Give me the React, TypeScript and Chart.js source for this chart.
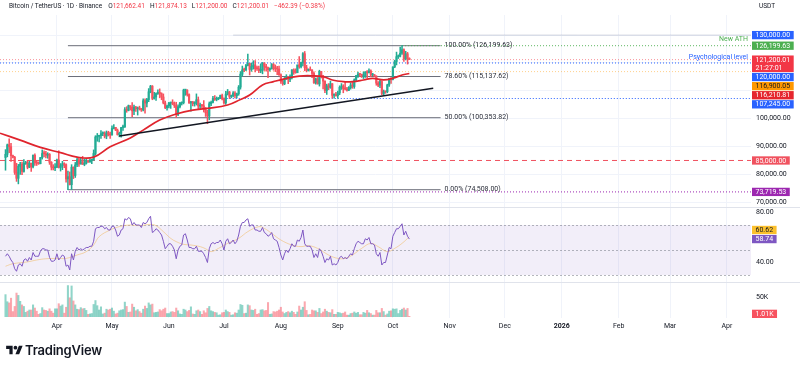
import React, { useEffect, useRef } from "react";
import { Chart, registerables } from "chart.js";

Chart.register(...registerables);

const FONT = "Roboto, 'Noto Sans', 'DejaVu Sans', sans-serif";

// ---------------- data (daily BTC/USDT, Binance) ----------------
const originDate = "2025-03-01";
const firstCandleDate = "2025-03-04";
const firstOpen = 86065;

const highs = [
  // Mar 4 - Mar 31
  88900, 90900, 92800, 91200, 86900, 86500, 84000, 83600, 84300, 84400, 85300, 84700, 85000, 84700, 84100, 87000, 87400, 85000, 84500, 86100, 88800, 88500, 88300, 87800, 87500, 84600, 83500, 83900,
  // Apr
  85500, 88500, 83900, 84700, 84200, 83800, 81200, 80900, 83500, 82700, 84300, 85900, 86100, 85800, 86500, 85500, 85400, 85100, 85600, 85300, 88800, 93900, 94700, 94000, 95700, 95300, 95300, 95600, 95500, 95200,
  // May
  97400, 97900, 96900, 96300, 95200, 96900, 97700, 104000, 104300, 104900, 104600, 105800, 104900, 104400, 104200, 104500, 103700, 107100, 107100, 107300, 110800, 111980, 111900, 109500, 109300, 110400, 110700, 109300, 108900, 106300, 104900,
  // Jun
  105900, 105900, 106800, 106000, 105900, 105000, 105900, 106000, 110600, 110400, 110400, 108900, 106200, 106200, 106100, 108900, 107800, 105600, 105200, 106500, 104000, 103000, 106000, 106300, 108000, 108300, 107800, 107600, 108500, 108800,
  // Jul
  107500, 109800, 110500, 109800, 108500, 109700, 109700, 109200, 111900, 116900, 118900, 118200, 119500, 123218, 119900, 120000, 120800, 120900, 118900, 118900, 119700, 120200, 120100, 119500, 118500, 118300, 119800, 119800, 119300, 118800, 118900,
  // Aug
  116100, 114000, 114800, 115800, 115200, 115700, 117600, 117900, 117900, 119300, 122300, 120300, 123700, 124128, 119200, 117900, 118600, 117600, 116800, 114600, 114800, 117400, 117000, 115600, 113600, 112400, 112600, 113500, 112600, 108900, 109500,
  // Sep
  109900, 111800, 112600, 112200, 113400, 111300, 111500, 112900, 113200, 114300, 115500, 116700, 116300, 116000, 116800, 116900, 117300, 117900, 117500, 116300, 115900, 115400, 113300, 113900, 113400, 110300, 109800, 112400, 114500, 114800,
  // Oct 1 - Oct 10
  118600, 121000, 123900, 122900, 125700, 126199.63, 125100, 124200, 123800, 121874.13,
];

const lows = [
  81500, 86300, 87800, 84700, 85900, 80000, 77500, 76600, 80000, 79900, 80800, 83600, 82000, 82400, 81100, 82300, 83200, 83200, 83600, 83800, 85500, 86300, 85900, 85800, 83600, 81600, 81600, 81300,
  82400, 82300, 81200, 81700, 82400, 77200, 74508, 76200, 74600, 78500, 78900, 82800, 82900, 83700, 83600, 83100, 83700, 84300, 84400, 83900, 85100, 87000, 91900, 91700, 92900, 93900, 93100, 92800, 93800, 92900,
  94100, 96300, 95700, 94100, 93500, 93400, 95800, 96900, 102300, 102800, 103100, 100700, 101400, 102600, 101300, 103100, 102600, 102800, 102000, 104200, 106100, 109300, 106800, 107000, 106600, 108700, 107500, 106800, 105300, 103600, 103100,
  103900, 103700, 105000, 104000, 100400, 101100, 103900, 104900, 105300, 108400, 108100, 105500, 102700, 104600, 104500, 104900, 103500, 103600, 103900, 102400, 100800, 98200, 99600, 104700, 105700, 106600, 106400, 106800, 107200, 106700,
  105200, 105100, 108500, 107200, 107500, 107800, 107500, 107500, 108400, 110600, 115300, 116900, 117300, 118900, 115700, 117000, 117800, 116800, 117300, 116500, 116500, 116100, 117300, 117100, 114700, 117100, 117800, 117400, 116900, 115800, 115500,
  112700, 112000, 112200, 114100, 112600, 113300, 114300, 115900, 116300, 116500, 118100, 118200, 118900, 117200, 116800, 117100, 117300, 114700, 112700, 112400, 112400, 111700, 114600, 110700, 109300, 108700, 110400, 110900, 107400, 107400, 108100,
  107300, 108600, 110500, 109300, 110300, 109900, 110100, 110600, 110900, 110900, 113400, 114800, 115200, 114800, 114400, 114800, 114700, 116400, 115100, 115400, 115200, 112000, 111500, 111100, 108600, 108600, 109100, 109300, 111600, 112700,
  113900, 118300, 119300, 121600, 122200, 123100, 120600, 121100, 119600, 121200,
];

const closes = [
  87220, 90620, 89960, 86740, 86150, 80730, 78600, 82930, 83680, 81070, 83970, 84340, 82580, 84010, 82720, 86850, 84170, 84040, 83830, 86050, 87500, 87420, 86900, 87180, 84350, 82600, 82340, 82550,
  85160, 82500, 83100, 83840, 83500, 78370, 79160, 76320, 82600, 79600, 83400, 85280, 83740, 84540, 83600, 84030, 84940, 84450, 85060, 85170, 87520, 93440, 93700, 93980, 94640, 94650, 93750, 94980, 94280, 94170,
  96490, 96910, 95890, 94300, 94750, 96830, 97030, 103240, 102970, 104700, 104120, 102810, 104170, 103540, 103740, 103510, 103130, 106450, 105610, 106850, 109670, 111670, 107290, 107790, 109030, 109440, 108990, 107800, 105640, 103980, 104590,
  105640, 105880, 105430, 104700, 101510, 104290, 105600, 105730, 110260, 110270, 108650, 105670, 106070, 105410, 105590, 106790, 104550, 104830, 104630, 103270, 102120, 100960, 105370, 105890, 107300, 106920, 107110, 107300, 108330, 107140,
  105700, 108820, 109600, 107980, 108220, 109200, 108260, 108920, 111330, 115990, 117520, 117420, 119090, 119840, 117680, 118760, 119290, 117950, 117940, 117300, 117440, 119950, 118760, 118340, 117640, 117920, 119450, 118060, 117920, 117830, 115760,
  113300, 112530, 114210, 115030, 114110, 114990, 117490, 116650, 116490, 119290, 118690, 120130, 123320, 118300, 117340, 117490, 117450, 116250, 112870, 114270, 112500, 116940, 115380, 113490, 110110, 111790, 111260, 112560, 108380, 108810, 108250,
  109240, 111240, 111710, 110730, 110660, 110190, 111140, 112070, 111550, 113960, 115500, 116030, 115950, 115270, 115350, 116790, 116470, 117140, 115690, 115720, 115310, 112750, 112010, 113330, 109050, 109690, 109680, 112120, 114400, 114050,
  118590, 120530, 122270, 122390, 123500, 124750, 121450, 123300, 121662.41, 121200.01,
];

const volumesK = [
  56, 38, 35, 47, 13, 26, 60, 54, 39, 30, 26, 11, 14, 17, 17, 30, 22, 14, 6, 8, 23, 17, 16, 14, 20, 14, 9, 20,
  20, 33, 27, 30, 9, 24, 79, 48, 78, 40, 30, 19, 18, 23, 20, 21, 16, 6, 7, 8, 31, 41, 28, 17, 25, 7, 9, 19, 17, 19,
  22, 14, 7, 9, 15, 17, 18, 37, 26, 11, 12, 32, 24, 15, 18, 13, 9, 19, 27, 21, 35, 30, 32, 10, 11, 12, 18, 15, 19, 22, 8,
  8, 12, 13, 11, 22, 15, 7, 6, 19, 17, 13, 16, 25, 7, 6, 15, 17, 13, 6, 15, 10, 21, 26, 15, 13, 11, 10, 4, 5, 10,
  11, 17, 13, 11, 4, 5, 10, 9, 17, 31, 29, 8, 9, 30, 28, 17, 16, 19, 6, 8, 17, 18, 15, 16, 36, 6, 7, 13, 12, 14, 17,
  24, 12, 8, 11, 13, 10, 14, 11, 6, 12, 27, 17, 24, 38, 16, 5, 6, 17, 15, 15, 11, 21, 8, 12, 19, 14, 11, 10, 18, 6, 6,
  11, 10, 8, 9, 12, 4, 4, 8, 9, 12, 9, 11, 5, 5, 11, 9, 16, 10, 8, 4, 4, 16, 10, 10, 21, 13, 4, 7, 14, 15,
  20, 19, 20, 8, 16, 19, 22, 17, 21, 1.01,
];

const rsiValues = [
  45, 47, 45, 42, 40, 35, 33, 38, 39, 37, 42, 43, 41, 44, 42, 48, 45, 45, 45, 49, 51, 51, 50, 50, 44, 41, 41, 42,
  47, 42, 44, 46, 45, 37, 38, 34, 47, 42, 49, 52, 50, 51, 50, 51, 52, 52, 53, 53, 57, 67, 68, 68, 69, 69, 67, 68, 66, 66,
  69, 69, 66, 61, 62, 66, 67, 75, 74, 76, 75, 70, 72, 70, 70, 70, 68, 72, 71, 72, 75, 77, 64, 65, 67, 66, 64, 62, 57, 51, 53,
  55, 55, 53, 50, 43, 50, 53, 54, 62, 63, 58, 52, 52, 51, 51, 53, 49, 49, 49, 47, 44, 40, 51, 55, 56, 55, 56, 56, 58, 55,
  50, 57, 59, 55, 56, 58, 55, 57, 62, 69, 72, 72, 74, 75, 69, 70, 70, 66, 66, 65, 65, 68, 64, 63, 61, 62, 64, 59, 58, 57, 52,
  46, 42, 47, 50, 48, 51, 55, 53, 53, 58, 57, 60, 66, 55, 53, 53, 53, 50, 44, 47, 44, 51, 49, 45, 40, 43, 42, 45, 38, 39, 38,
  40, 44, 45, 43, 44, 43, 45, 47, 46, 51, 55, 57, 56, 55, 55, 59, 58, 60, 55, 55, 54, 47, 45, 48, 38, 40, 40, 46, 52, 51,
  61, 64, 67, 67, 69, 71, 62, 65, 61, 58.74,
];

// RSI moving average, day offsets from originDate
const rsiMaDays = [3, 7, 15, 20, 25, 31, 36, 42, 47, 51, 54, 60, 65, 71, 76, 82, 85, 89, 93, 96, 100, 104, 109, 112, 115, 119, 124, 130, 135, 141, 144, 148, 153, 159, 164, 168, 173, 179, 184, 188, 192, 197, 202, 206, 211, 215, 219, 223];
const rsiMaValues = [37, 39, 40.5, 42, 43, 43.3, 43.3, 46, 48.7, 54, 60.7, 66, 68.7, 70, 69.5, 70.5, 69.5, 64.7, 59.3, 56.7, 54.5, 54, 52.7, 51, 48.7, 51.3, 55.3, 59.3, 64.7, 68.7, 67.3, 63.3, 58, 54, 52.7, 53.5, 51.3, 46, 43.3, 43.3, 46, 51.3, 55.3, 52.7, 48.7, 51.3, 55.3, 60.62];

// Price moving average (red), day offsets from originDate
const maDays = [0, 11, 22, 33, 42, 51, 60, 71, 78, 87, 96, 105, 113, 124, 131, 136, 143, 149, 156, 163, 170, 176, 181, 187, 192, 198, 203, 209, 214, 219, 223];
const maValues = [94800, 92300, 89700, 87800, 86200, 86200, 89900, 93100, 95900, 99500, 101700, 103100, 103700, 104900, 106900, 108500, 112100, 113300, 114500, 115300, 115400, 115100, 113900, 113300, 113300, 113900, 114500, 113900, 114500, 115700, 116210.81];

// ascending trendline
const trendDates = ["2025-05-05", "2025-10-23"];
const trendPrices = [93750, 110900];

// Fibonacci retracement
const fibDates = ["2025-04-07", "2025-10-27"];
const fibLabels = ["100.00%", "78.60%", "50.00%", "0.00%"];
const fibPrices = [126199.63, 115137.62, 100353.82, 74508.0];

// horizontal levels
const roundLevel = 130000;
const athLevel = 126199.63;
const psychLevel = 120000;
const orangeLevel = 116900.05;
const supportLevel = 107245.0;
const dashedLevel = 85000;
const purpleLevel = 73719.53;
const countdown = "21:27:01";

// axes
const monthTickDates = ["2025-04-01", "2025-05-01", "2025-06-01", "2025-07-01", "2025-08-01", "2025-09-01", "2025-10-01", "2025-11-01", "2025-12-01", "2026-01-01", "2026-02-01", "2026-03-01", "2026-04-01"];
const monthTickLabels = ["Apr", "May", "Jun", "Jul", "Aug", "Sep", "Oct", "Nov", "Dec", "2026", "Feb", "Mar", "Apr"];
const priceGridTicks = [70000, 80000, 90000, 100000, 110000, 120000, 130000];
const priceLabelTicks = [70000, 80000, 90000, 100000];
const rsiBands = [70, 50, 30];
const rsiAxisTicks = [80, 40];
const volAxisTicksK = [50];

const headerTitle = "Bitcoin / TetherUS · 1D · Binance";
const headerChange = "−462.39 (−0.38%)";

// ---------------- view ----------------
const X_MIN = 0;
const X_MAX = 409.1;
const P_MIN = 28461;
const P_MAX = 137219;
const R_MIN = -4.4;
const R_MAX = 238;
const V_MIN = -3.3;
const V_MAX = 765.7;

const UP = "#22AB94";
const DOWN = "#F7525F";

const DAY0 = Date.parse(originDate + "T00:00:00Z");
const dayOf = (s: string) => (Date.parse(s + "T00:00:00Z") - DAY0) / 86400000;
const fmt = (v: number) => v.toLocaleString("en-US", { minimumFractionDigits: 2, maximumFractionDigits: 2 });

const n = closes.length;
const firstDay = dayOf(firstCandleDate);
const opens = closes.map((c, i) => (i === 0 ? firstOpen : closes[i - 1]));
const xs = closes.map((_, i) => firstDay + i);
const isUp = closes.map((c, i) => c >= opens[i]);
const lastClose = closes[n - 1];
const lastMa = maValues[maValues.length - 1];
const lastRsi = rsiValues[n - 1];
const lastRsiMa = rsiMaValues[rsiMaValues.length - 1];
const lastVol = volumesK[n - 1];
const monthTickDays = monthTickDates.map(dayOf);
const yearTickDay = dayOf("2026-01-01");

function hLine(price: number, fromDay: number, color: string, dash: number[], width = 1, order = 10) {
  return {
    type: "line",
    yAxisID: "y",
    data: [{ x: fromDay, y: price }, { x: X_MAX, y: price }],
    borderColor: color,
    borderWidth: width,
    borderDash: dash,
    pointRadius: 0,
    fill: false,
    order,
  };
}

type Box = { y: number; lines: string[]; bg: string; fg: string; top?: number };

function drawBoxes(ctx: CanvasRenderingContext2D, items: Box[], mode: "down" | "up", clampBottom: number) {
  const lh = 8.3;
  const gap = 0.8;
  const sorted = [...items].sort((a, b) => a.y - b.y);
  if (mode === "down") {
    let prevBottom = -Infinity;
    for (const it of sorted) {
      const h = lh * it.lines.length;
      let top = it.y - lh / 2;
      if (top < prevBottom + gap) top = prevBottom + gap;
      it.top = top;
      prevBottom = top + h;
    }
  } else {
    let prevTop = Infinity;
    for (let i = sorted.length - 1; i >= 0; i--) {
      const it = sorted[i];
      const h = lh * it.lines.length;
      let top = it.y - lh / 2;
      if (top + h > prevTop - gap) top = prevTop - gap - h;
      it.top = top;
      prevTop = top;
    }
  }
  ctx.font = `7px ${FONT}`;
  ctx.textBaseline = "middle";
  ctx.textAlign = "left";
  for (const it of sorted) {
    const h = lh * it.lines.length;
    let top = it.top as number;
    if (top + h > clampBottom) top = clampBottom - h;
    const w = Math.max(...it.lines.map((l) => ctx.measureText(l).width)) + 7;
    ctx.fillStyle = it.bg;
    ctx.fillRect(752, top, w, h);
    ctx.fillStyle = it.fg;
    it.lines.forEach((l, i) => ctx.fillText(l, 755.5, top + lh / 2 + i * lh + 0.3));
  }
}

const decorPlugin = {
  id: "decor",
  beforeDatasetsDraw(chart: any) {
    const { ctx, chartArea: ca, scales } = chart;
    const yr = scales.yr;
    const yTop = yr.getPixelForValue(rsiBands[0]);
    const yBot = yr.getPixelForValue(rsiBands[2]);
    ctx.save();
    ctx.fillStyle = "rgba(126,87,194,0.1)";
    ctx.fillRect(ca.left, yTop, ca.right - ca.left, yBot - yTop);
    ctx.strokeStyle = "rgba(120,123,134,0.55)";
    ctx.lineWidth = 1;
    ctx.setLineDash([2, 2]);
    for (const b of rsiBands) {
      const y = Math.round(yr.getPixelForValue(b)) + 0.5;
      ctx.beginPath();
      ctx.moveTo(ca.left, y);
      ctx.lineTo(ca.right, y);
      ctx.stroke();
    }
    ctx.setLineDash([]);
    ctx.strokeStyle = "#E0E3EB";
    for (const y of [207.5, 282.5]) {
      ctx.beginPath();
      ctx.moveTo(0, y);
      ctx.lineTo(800, y);
      ctx.stroke();
    }
    ctx.restore();
  },
  afterDraw(chart: any) {
    const { ctx, chartArea: ca, scales } = chart;
    const x = scales.x, y = scales.y, yr = scales.yr, yv = scales.yv;
    ctx.save();
    // fib labels
    ctx.font = `7px ${FONT}`;
    ctx.textBaseline = "middle";
    ctx.textAlign = "left";
    ctx.fillStyle = "#2A2E39";
    const fx = x.getPixelForValue(dayOf(fibDates[1])) + 4;
    fibPrices.forEach((p, i) => ctx.fillText(`${fibLabels[i]} (${fmt(p)})`, fx, y.getPixelForValue(p)));
    // level captions
    ctx.textAlign = "right";
    ctx.fillStyle = "#4CAF50";
    ctx.fillText("New ATH", ca.right - 3, y.getPixelForValue(athLevel) - 6);
    ctx.fillStyle = "#2962FF";
    ctx.fillText("Psychological level", ca.right - 3, y.getPixelForValue(psychLevel) - 6);
    // secondary axis ticks
    ctx.textAlign = "left";
    ctx.fillStyle = "#131722";
    rsiAxisTicks.forEach((t) => ctx.fillText(t.toFixed(2), 756, yr.getPixelForValue(t)));
    volAxisTicksK.forEach((t) => ctx.fillText(`${t}K`, 756, yv.getPixelForValue(t)));
    // axis boxes
    drawBoxes(
      ctx,
      [
        { y: y.getPixelForValue(roundLevel), lines: [fmt(roundLevel)], bg: "#2962FF", fg: "#fff" },
        { y: y.getPixelForValue(athLevel), lines: [fmt(athLevel)], bg: "#4CAF50", fg: "#fff" },
        { y: y.getPixelForValue(lastClose), lines: [fmt(lastClose), countdown], bg: "#F23645", fg: "#fff" },
        { y: y.getPixelForValue(psychLevel), lines: [fmt(psychLevel)], bg: "#2962FF", fg: "#fff" },
        { y: y.getPixelForValue(orangeLevel), lines: [fmt(orangeLevel)], bg: "#FF9800", fg: "#131722" },
        { y: y.getPixelForValue(lastMa), lines: [fmt(lastMa)], bg: "#E5262D", fg: "#fff" },
        { y: y.getPixelForValue(supportLevel), lines: [fmt(supportLevel)], bg: "#2962FF", fg: "#fff" },
      ],
      "down",
      207
    );
    drawBoxes(ctx, [{ y: y.getPixelForValue(dashedLevel), lines: [fmt(dashedLevel)], bg: "#F0525F", fg: "#fff" }], "down", 207);
    drawBoxes(ctx, [{ y: y.getPixelForValue(purpleLevel), lines: [fmt(purpleLevel)], bg: "#9C27B0", fg: "#fff" }], "down", 207);
    drawBoxes(
      ctx,
      [
        { y: yr.getPixelForValue(lastRsiMa), lines: [lastRsiMa.toFixed(2)], bg: "#FBC02D", fg: "#131722" },
        { y: yr.getPixelForValue(lastRsi), lines: [lastRsi.toFixed(2)], bg: "#7E57C2", fg: "#fff" },
      ],
      "up",
      282
    );
    drawBoxes(ctx, [{ y: yv.getPixelForValue(lastVol), lines: [`${lastVol.toFixed(2)}K`], bg: "#F7525F", fg: "#fff" }], "down", 318);
    ctx.restore();
  },
};

function buildConfig(): any {
  const fibFrom = dayOf(fibDates[0]);
  const fibTo = dayOf(fibDates[1]);
  const datasets: any[] = [
    // fib lines
    ...fibPrices.map((p) => ({
      type: "line",
      yAxisID: "y",
      data: [{ x: fibFrom, y: p }, { x: fibTo, y: p }],
      borderColor: "#6A6D78",
      borderWidth: 1,
      pointRadius: 0,
      fill: false,
      order: 12,
    })),
    hLine(roundLevel, dayOf("2025-07-06"), "rgba(130,140,165,0.35)", [], 1, 11),
    hLine(athLevel, dayOf("2025-10-06"), "rgba(76,175,80,0.9)", [1, 2], 1, 11),
    hLine(lastClose, X_MIN, "rgba(242,54,69,0.55)", [1, 2], 1, 11),
    hLine(psychLevel, X_MIN, "#2962FF", [1, 2], 1, 11),
    hLine(orangeLevel, X_MIN, "rgba(255,152,0,0.45)", [1, 2], 1, 11),
    hLine(supportLevel, dayOf("2025-06-26"), "#2962FF", [1, 2], 1, 11),
    hLine(dashedLevel, X_MIN, "#F0525F", [5, 4], 1, 11),
    hLine(purpleLevel, X_MIN, "#9C27B0", [1, 2], 1, 11),
    // volume
    {
      type: "bar",
      yAxisID: "yv",
      data: xs.map((x, i) => ({ x, y: volumesK[i] })),
      backgroundColor: isUp.map((u) => (u ? "rgba(34,171,148,0.5)" : "rgba(247,82,95,0.5)")),
      barThickness: 1.4,
      grouped: false,
      order: 10,
    },
    // RSI MA
    {
      type: "line",
      yAxisID: "yr",
      data: rsiMaDays.map((d, i) => ({ x: d, y: rsiMaValues[i] })),
      borderColor: "rgba(240,185,100,0.55)",
      borderWidth: 1,
      pointRadius: 0,
      tension: 0.4,
      fill: false,
      order: 9,
    },
    // RSI
    {
      type: "line",
      yAxisID: "yr",
      data: xs.map((x, i) => ({ x, y: rsiValues[i] })),
      borderColor: "#7E57C2",
      borderWidth: 1,
      pointRadius: 0,
      fill: false,
      order: 8,
    },
    // wicks
    {
      type: "bar",
      yAxisID: "y",
      data: xs.map((x, i) => ({ x, y: [lows[i], highs[i]] })),
      backgroundColor: isUp.map((u) => (u ? UP : DOWN)),
      barThickness: 0.9,
      grouped: false,
      order: 7,
    },
    // bodies
    {
      type: "bar",
      yAxisID: "y",
      data: xs.map((x, i) => ({ x, y: [opens[i], closes[i]] })),
      backgroundColor: isUp.map((u) => (u ? UP : DOWN)),
      barThickness: 1.5,
      minBarLength: 1,
      grouped: false,
      order: 6,
    },
    // moving average
    {
      type: "line",
      yAxisID: "y",
      data: maDays.map((d, i) => ({ x: d, y: maValues[i] })),
      borderColor: "#E0242D",
      borderWidth: 1.7,
      pointRadius: 0,
      tension: 0.4,
      fill: false,
      order: 5,
    },
    // trendline
    {
      type: "line",
      yAxisID: "y",
      data: trendDates.map((d, i) => ({ x: dayOf(d), y: trendPrices[i] })),
      borderColor: "#131722",
      borderWidth: 1.5,
      pointRadius: 0,
      fill: false,
      order: 4,
    },
  ];

  return {
    type: "bar",
    data: { datasets },
    plugins: [decorPlugin],
    options: {
      animation: false,
      responsive: false,
      devicePixelRatio: 1,
      events: [],
      layout: { padding: { top: 15, bottom: 30, left: 0, right: 0 } },
      plugins: { legend: { display: false }, tooltip: { enabled: false } },
      scales: {
        x: {
          type: "linear",
          min: X_MIN,
          max: X_MAX,
          offset: false,
          afterBuildTicks: (s: any) => {
            s.ticks = monthTickDays.map((v) => ({ value: v }));
          },
          afterFit: (s: any) => {
            s.height = 18;
            s.paddingLeft = 0;
            s.paddingRight = 0;
          },
          ticks: {
            autoSkip: false,
            maxRotation: 0,
            padding: 4,
            color: "#131722",
            font: (c: any) => ({ family: FONT, size: 7, weight: c.tick && c.tick.value === yearTickDay ? "bold" : "normal" }),
            callback: (_v: any, i: number) => monthTickLabels[i],
          },
          grid: { color: "#F0F3FA", drawTicks: false, offset: false },
          border: { display: false },
        },
        y: {
          type: "linear",
          position: "right",
          min: P_MIN,
          max: P_MAX,
          afterBuildTicks: (s: any) => {
            s.ticks = priceGridTicks.map((v) => ({ value: v }));
          },
          afterFit: (s: any) => {
            s.width = 49;
            s.paddingTop = 0;
            s.paddingBottom = 0;
          },
          ticks: {
            padding: 5,
            color: "#131722",
            font: { family: FONT, size: 7 },
            callback: (v: number) => (priceLabelTicks.includes(v) ? fmt(v) : ""),
          },
          grid: { color: "#F0F3FA", drawTicks: false },
          border: { display: false },
        },
        yr: { type: "linear", display: false, min: R_MIN, max: R_MAX },
        yv: { type: "linear", display: false, min: V_MIN, max: V_MAX },
      },
    },
  };
}

function Logo() {
  return (
    <svg width="17" height="13" viewBox="0 0 36 28" style={{ position: "absolute", left: 6, top: 344 }}>
      <path d="M14 22H7V11H0V4h14v18zM28 22h-8l7.5-18h8L28 22z" fill="#131722" />
      <circle cx="20" cy="8" r="4" fill="#131722" />
    </svg>
  );
}

export default function App() {
  const ref = useRef<HTMLCanvasElement>(null);
  useEffect(() => {
    const chart = new Chart(ref.current as HTMLCanvasElement, buildConfig());
    return () => chart.destroy();
  }, []);
  const red = { color: "#F23645" };
  const item = { marginLeft: 5 };
  return (
    <div style={{ position: "fixed", left: 0, top: 0, width: 800, height: 366, background: "#fff", overflow: "hidden" }}>
      <canvas ref={ref} width={800} height={366} style={{ position: "absolute", left: 0, top: 0, width: 800, height: 366 }} />
      <div style={{ position: "absolute", left: 9, top: 1, fontFamily: FONT, fontSize: 6.5, lineHeight: "10px", color: "#131722", whiteSpace: "nowrap" }}>
        <span>{headerTitle}</span>
        <span style={{ marginLeft: 6 }}>O<span style={red}>{fmt(opens[n - 1])}</span></span>
        <span style={item}>H<span style={red}>{fmt(highs[n - 1])}</span></span>
        <span style={item}>L<span style={red}>{fmt(lows[n - 1])}</span></span>
        <span style={item}>C<span style={red}>{fmt(closes[n - 1])}</span></span>
        <span style={{ ...item, ...red }}>{headerChange}</span>
      </div>
      <div style={{ position: "absolute", left: 759, top: 1, fontFamily: FONT, fontSize: 6.5, lineHeight: "10px", color: "#131722" }}>USDT</div>
      <Logo />
      <div style={{ position: "absolute", left: 25, top: 342, fontFamily: "Inter, 'Noto Sans', sans-serif", fontSize: 13, fontWeight: 600, lineHeight: "16px", color: "#131722", letterSpacing: -0.2 }}>
        TradingView
      </div>
    </div>
  );
}
